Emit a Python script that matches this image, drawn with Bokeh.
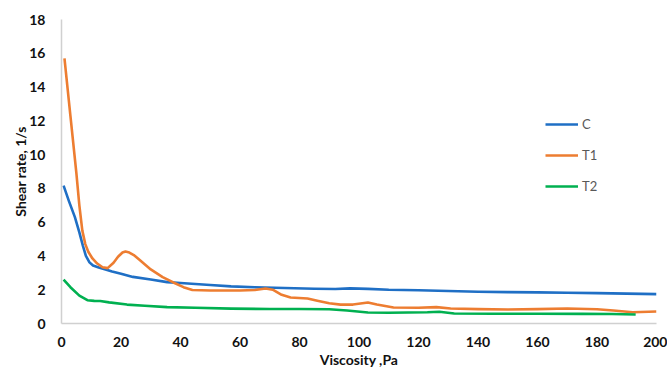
from bokeh.plotting import figure
from bokeh.models import Range1d, FixedTicker, Legend, LegendItem
from bokeh.embed import file_html
from bokeh.resources import INLINE

# Data
c_x = [0.7, 2.5, 4.5, 6, 7.2, 8.2, 9.4, 10.6, 12.5, 14.8, 17, 20, 24, 30, 35.5, 40, 50, 57, 65, 75, 85, 92, 97, 103, 110, 120, 130, 140, 150, 160, 170, 180, 190, 200]
c_y = [8.16, 7.25, 6.3, 5.4, 4.6, 4.0, 3.62, 3.43, 3.32, 3.2, 3.08, 2.95, 2.76, 2.6, 2.45, 2.4, 2.28, 2.2, 2.15, 2.1, 2.06, 2.04, 2.08, 2.05, 2.0, 1.97, 1.92, 1.88, 1.86, 1.84, 1.82, 1.8, 1.77, 1.74]

t1_x = [1, 3, 5, 6, 7, 8, 9, 10.4, 12, 13.8, 15.5, 17.5, 19, 20.5, 21.5, 22.8, 24.3, 26, 30, 34, 37.6, 41, 44, 50, 55, 60, 65, 68.6, 71, 74, 77, 82.7, 86, 90, 93.8, 98, 103, 106, 111.6, 120, 126, 130.8, 140, 150, 160, 170, 180, 185.5, 192, 200]
t1_y = [15.7, 12.3, 8.9, 7.0, 5.5, 4.7, 4.25, 3.85, 3.55, 3.33, 3.28, 3.6, 3.95, 4.2, 4.26, 4.2, 4.05, 3.8, 3.2, 2.75, 2.43, 2.15, 1.98, 1.95, 1.95, 1.95, 1.98, 2.07, 2.0, 1.7, 1.54, 1.48, 1.35, 1.2, 1.12, 1.12, 1.24, 1.12, 0.95, 0.93, 0.97, 0.89, 0.85, 0.83, 0.85, 0.89, 0.84, 0.77, 0.67, 0.71]

t2_x = [0.7, 3, 6, 8.7, 11, 13, 16, 22, 28, 35.5, 45, 57, 70, 80, 90, 96, 103, 110, 123, 127, 132, 145, 160, 175, 185, 193]
t2_y = [2.6, 2.15, 1.65, 1.38, 1.34, 1.33, 1.25, 1.12, 1.05, 0.97, 0.93, 0.88, 0.86, 0.86, 0.84, 0.77, 0.65, 0.64, 0.67, 0.7, 0.59, 0.58, 0.58, 0.57, 0.56, 0.53]

x_ticks = [0, 20, 40, 60, 80, 100, 120, 140, 160, 180, 200]
y_ticks = [0, 2, 4, 6, 8, 10, 12, 14, 16, 18]
series_names = ["C", "T1", "T2"]
colors = ["#1F6FC5", "#ED7D31", "#00B050"]

p = figure(width=667, height=378, output_backend="svg", toolbar_location=None,
           x_range=Range1d(0, 200), y_range=Range1d(0, 18),
           min_border_left=61, min_border_right=11, min_border_top=19, min_border_bottom=55)
p.outline_line_color = None
p.grid.visible = False
p.background_fill_color = "white"

r1 = p.line(c_x, c_y, line_color=colors[0], line_width=2.6, line_join="round")
r2 = p.line(t1_x, t1_y, line_color=colors[1], line_width=2.6, line_join="round")
r3 = p.line(t2_x, t2_y, line_color=colors[2], line_width=2.6, line_join="round")

for ax in (p.xaxis[0], p.yaxis[0]):
    ax.axis_line_color = "#D0D0D0"
    ax.axis_line_width = 1.5
    ax.major_tick_line_color = None
    ax.minor_tick_line_color = None
    ax.major_label_text_font = "Lato"
    ax.major_label_text_font_style = "bold"
    ax.major_label_text_font_size = "14px"
    ax.major_label_text_color = "#111111"
    ax.axis_label_text_font = "Lato"
    ax.axis_label_text_font_style = "bold"
    ax.axis_label_text_font_size = "14px"
    ax.axis_label_text_color = "#111111"

p.xaxis.ticker = FixedTicker(ticks=x_ticks)
p.yaxis.ticker = FixedTicker(ticks=y_ticks)
p.xaxis.axis_label = "Viscosity ,Pa"
p.yaxis.axis_label = "Shear rate, 1/s"
p.xaxis.major_label_standoff = 7
p.yaxis.major_label_standoff = 10
p.xaxis.axis_label_standoff = 1
p.yaxis.axis_label_standoff = -3

legend = Legend(items=[LegendItem(label=series_names[0], renderers=[r1]),
                       LegendItem(label=series_names[1], renderers=[r2]),
                       LegendItem(label=series_names[2], renderers=[r3])],
                location=(484, 127), padding=0, margin=0, spacing=11,
                glyph_width=33, glyph_height=20, label_standoff=4,
                label_text_font="Lato", label_text_font_size="13px",
                label_text_color="#595959",
                background_fill_alpha=0, border_line_color=None)
p.add_layout(legend)

open("out.html", "w").write(file_html(p, INLINE))
